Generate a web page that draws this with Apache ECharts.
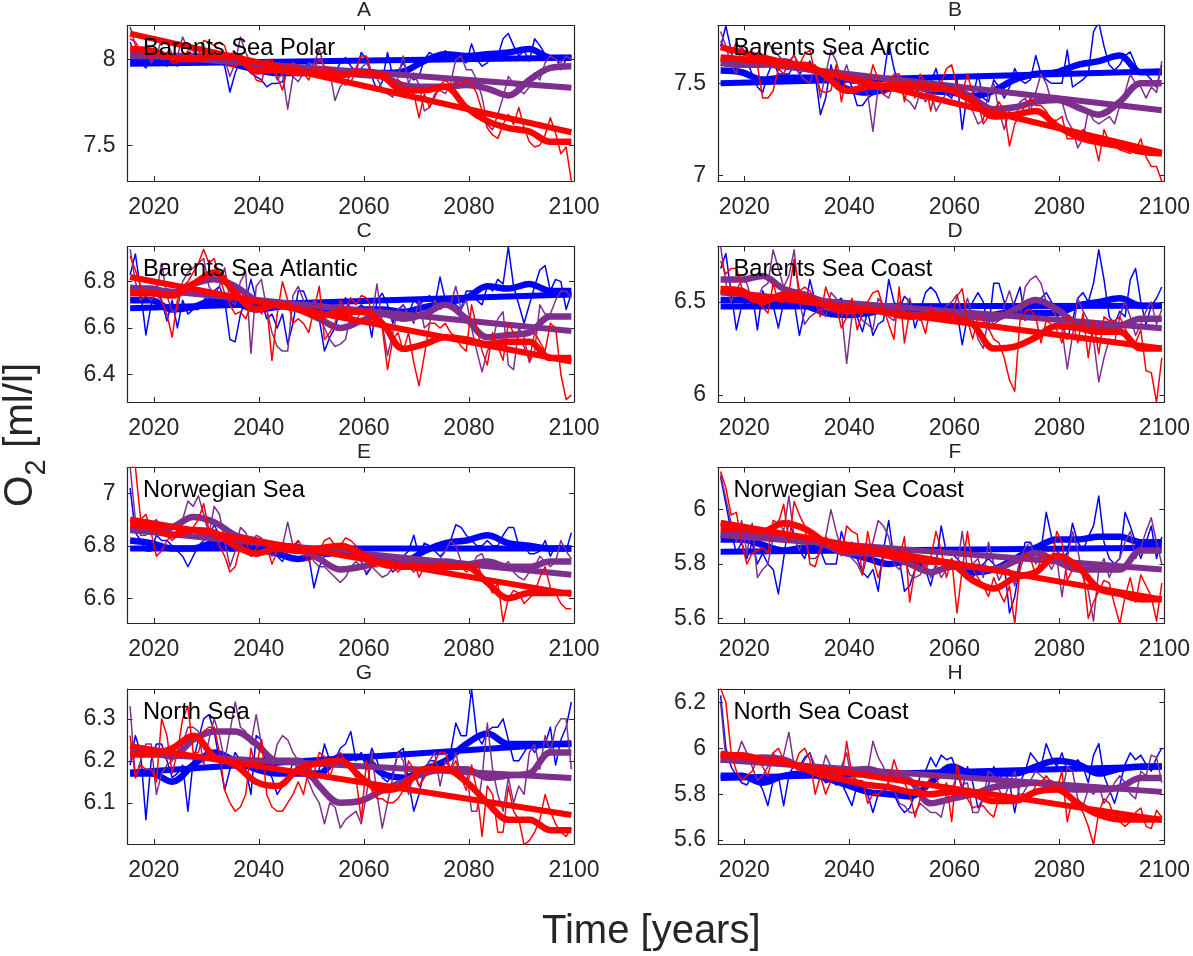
<!DOCTYPE html>
<html>
<head>
<meta charset="utf-8">
<title>O2 projections</title>
<script src="https://cdn.jsdelivr.net/npm/echarts@6/dist/echarts.min.js"></script>
<style>
    html, body { margin: 0; padding: 0; background: #fff; }
    #chart { width: 1193px; height: 956px; }
</style>
</head>
<body>
<div id="chart"></div>
<script>
// annual thin lines run 2015.5 .. 2099.5, smoothed lines are read every 4 years
var thin_start = 2015.5;
var smooth_step = 4;
var trend_years = [2015.5, 2099.5];
var x_ticks = [2020, 2040, 2060, 2080, 2100];

var panel_titles = ["A", "B", "C", "D", "E", "F", "G", "H"];
var panel_names = ["Barents Sea Polar", "Barents Sea Arctic", "Barents Sea Atlantic", "Barents Sea Coast", "Norwegian Sea", "Norwegian Sea Coast", "North Sea", "North Sea Coast"];
var y_mins = [7.292, 6.971, 6.28, 5.962, 6.506, 5.583, 6.002, 5.583];
var y_maxs = [8.197, 7.813, 6.952, 6.798, 7.098, 6.155, 6.371, 6.258];
var y_ticks = [[7.5, 8], [7, 7.5], [6.4, 6.6, 6.8], [6, 6.5], [6.6, 6.8, 7], [5.6, 5.8, 6], [6.1, 6.2, 6.3], [5.6, 5.8, 6, 6.2]];

// panel A
var a_blue = [8.10,8.02,7.98,7.95,8.0,8.0,8.02,7.96,8.0,7.96, 8.02,7.97,8.02,8.0,8.02,8.0,8.03,8.0,7.96,7.81, 7.92,8.0,7.95,7.92,7.9,7.88,7.84,7.86,7.86,7.87, 7.93,7.9,7.96,7.95,7.98,7.93,7.92,7.95,7.90,7.92, 7.98,8.01,7.96,7.93,8.04,8.0,7.9,7.82,7.87,8.04, 7.90,7.93,7.98,7.92,7.88,7.9,8.0,8.04,8.02,8.0, 8.05,8.02,8.0,8.0,7.98,8.09,8.0,7.96,7.98,8.03, 8.02,8.12,8.15,8.08,8.02,8.05,7.99,8.12,8.08,8.03, 8.02,8.02,7.94,8.0,8.02];
var a_purple = [8.19,8.08,8.0,8.07,7.98,8.02,8.12,8.1,8.03,8.02, 8.13,8.06,8.05,8.0,8.02,8.02,8.05,8.02,8.0,7.9, 7.98,8.13,8.04,7.98,7.98,7.98,8.0,7.97,7.88,7.92, 7.71,7.9,7.87,7.92,7.98,7.97,8.06,7.94,7.93,7.76, 7.84,7.88,7.87,7.92,7.95,7.98,7.92,7.89,7.83,7.80, 7.78,7.9,8.02,7.86,7.92,7.85,7.70,7.72,7.80,7.82, 7.80,7.86,8.0,8.02,7.94,7.94,7.88,7.78,7.62,7.59, 7.68,7.78,7.90,7.86,7.82,7.80,7.84,7.92,7.88,7.98, 8.02,8.0,7.98,8.02,8.0];
var a_red = [8.12,8.1,8.05,8.02,8.0,8.03,8.05,8.02,7.98,7.98, 8.0,8.05,8.0,8.02,8.11,8.1,8.08,8.1,8.08,7.96, 7.96,7.98,7.98,7.95,7.88,7.87,7.98,8.0,7.9,7.82, 7.96,7.98,7.96,7.92,7.88,7.95,8.0,7.96,7.95,7.94, 7.88,7.85,7.92,7.95,8.02,8.02,7.92,7.93,7.92,7.92, 7.86,7.88,7.85,7.82,7.8,7.66,7.8,7.72,7.78,7.85, 7.88,7.85,7.87,7.85,7.88,7.86,7.80,7.7,7.6,7.56, 7.54,7.62,7.68,7.62,7.72,7.6,7.52,7.49,7.5,7.56, 7.66,7.57,7.45,7.49,7.29];
var a_blue_smooth = [8.01,8.01,8.01,8.01,8.0,7.97,7.94,7.92,7.92,7.92,7.92,7.93,7.92,7.93,7.99,8.03,8.02,8.03,8.04,8.06,8.01,8.01];
var a_purple_smooth = [8.02,8.02,8.02,8.02,8.02,8.0,7.96,7.94,7.93,7.92,7.92,7.91,7.90,7.85,7.84,7.84,7.85,7.83,7.79,7.88,7.95,7.96];
var a_red_smooth = [8.06,8.05,8.01,8.0,8.02,8.02,7.93,7.94,7.92,7.93,7.91,7.92,7.90,7.82,7.82,7.84,7.72,7.64,7.60,7.58,7.52,7.52];
var a_blue_trend = [7.975, 8.01];
var a_purple_trend = [8.03, 7.835];
var a_red_trend = [8.15, 7.576];

// panel B
var b_blue = [7.7,7.81,7.68,7.55,7.62,7.62,7.55,7.48,7.45,7.55, 7.62,7.55,7.55,7.55,7.6,7.55,7.58,7.62,7.55,7.33, 7.42,7.6,7.5,7.48,7.55,7.48,7.38,7.38,7.42,7.44, 7.5,7.52,7.72,7.58,7.48,7.5,7.53,7.5,7.42,7.42, 7.5,7.58,7.48,7.44,7.42,7.52,7.25,7.45,7.42,7.55, 7.42,7.4,7.52,7.48,7.42,7.48,7.58,7.52,7.5,7.52, 7.65,7.55,7.52,7.5,7.5,7.5,7.68,7.48,7.5,7.52, 7.55,7.78,7.83,7.7,7.6,7.57,7.6,7.65,7.67,7.6, 7.55,7.55,7.52,7.48,7.6];
var b_purple = [7.78,7.7,7.6,7.55,7.7,7.65,7.6,7.65,7.62,7.72, 7.68,7.65,7.62,7.6,7.66,7.55,7.52,7.5,7.6,7.42, 7.55,7.68,7.62,7.52,7.6,7.5,7.5,7.48,7.44,7.24, 7.48,7.44,7.42,7.5,7.55,7.42,7.4,7.36,7.45,7.4, 7.45,7.35,7.4,7.45,7.48,7.44,7.46,7.38,7.35,7.28, 7.3,7.45,7.5,7.35,7.25,7.35,7.3,7.4,7.42,7.35, 7.45,7.55,7.5,7.4,7.42,7.4,7.3,7.25,7.15,7.2, 7.35,7.3,7.28,7.3,7.32,7.28,7.38,7.45,7.55,7.5, 7.48,7.42,7.48,7.45,7.62];
var b_red = [7.73,7.68,7.66,7.72,7.68,7.65,7.62,7.6,7.42,7.42, 7.46,7.58,7.55,7.62,7.65,7.6,7.66,7.68,7.55,7.46, 7.45,7.46,7.6,7.4,7.55,7.5,7.5,7.48,7.48,7.6, 7.52,7.44,7.46,7.55,7.55,7.4,7.52,7.42,7.55,7.5, 7.35,7.48,7.5,7.58,7.6,7.48,7.45,7.55,7.44,7.4, 7.28,7.32,7.35,7.4,7.35,7.16,7.28,7.33,7.38,7.42, 7.38,7.38,7.35,7.3,7.3,7.32,7.2,7.2,7.2,7.25, 7.22,7.2,7.08,7.25,7.18,7.16,7.14,7.13,7.12,7.14, 7.2,7.1,7.05,7.05,6.97];
var b_blue_smooth = [7.57,7.56,7.52,7.53,7.53,7.53,7.47,7.45,7.47,7.49,7.46,7.45,7.43,7.46,7.52,7.55,7.56,7.60,7.62,7.65,7.56,7.56];
var b_purple_smooth = [7.61,7.6,7.6,7.62,7.58,7.56,7.53,7.5,7.48,7.48,7.47,7.47,7.42,7.36,7.37,7.40,7.41,7.37,7.33,7.40,7.5,7.5];
var b_red_smooth = [7.64,7.63,7.62,7.6,7.6,7.54,7.46,7.48,7.49,7.49,7.48,7.46,7.4,7.32,7.33,7.35,7.27,7.21,7.18,7.16,7.13,7.12];
var b_blue_trend = [7.50, 7.565];
var b_purple_trend = [7.63, 7.354];
var b_red_trend = [7.695, 7.124];

// panel C
var c_blue = [6.83,6.92,6.76,6.57,6.7,6.78,6.72,6.63,6.72,6.6, 6.72,6.66,6.68,6.68,6.72,6.74,6.76,6.78,6.72,6.55, 6.54,6.66,6.72,6.81,6.72,6.72,6.64,6.66,6.6,6.66, 6.53,6.62,6.76,6.76,6.7,6.72,6.64,6.5,6.56,6.6, 6.68,6.73,6.68,6.68,6.7,6.68,6.56,6.72,6.75,6.7, 6.62,6.68,6.7,6.66,6.72,6.7,6.72,6.74,6.7,6.82, 6.72,6.72,6.7,6.68,6.76,6.76,6.72,6.7,6.78,6.76, 6.81,6.79,6.95,6.78,6.7,6.62,6.7,6.78,6.85,6.87, 6.76,6.81,6.8,6.68,6.75];
var c_purple = [6.94,6.8,6.72,6.74,6.72,6.75,6.88,6.74,6.67,6.68, 6.8,6.84,6.86,6.88,6.9,6.78,6.74,6.78,6.86,6.72, 6.7,6.8,6.84,6.49,6.78,6.81,6.68,6.58,6.52,6.5, 6.5,6.74,6.78,6.72,6.66,6.72,6.66,6.6,6.55,6.52, 6.53,6.55,6.66,6.62,6.68,6.66,6.65,6.79,6.62,6.48, 6.58,6.68,6.7,6.66,6.62,6.72,6.6,6.62,6.72,6.68, 6.7,6.7,6.78,6.68,6.72,6.6,6.5,6.41,6.5,6.54, 6.64,6.67,6.44,6.42,6.6,6.56,6.45,6.5,6.7,6.66, 6.66,6.72,6.76,6.76,6.73];
var c_red = [6.91,6.85,6.78,6.74,6.76,6.74,6.72,6.66,6.56,6.72, 6.78,6.8,6.84,6.88,6.94,6.88,6.9,6.82,6.75,6.7, 6.66,6.67,6.64,6.7,6.72,6.66,6.7,6.46,6.66,6.8, 6.72,6.62,6.64,6.62,6.58,6.68,6.78,6.55,6.58,6.62, 6.72,6.68,6.73,6.7,6.74,6.73,6.68,6.62,6.6,6.42, 6.55,6.58,6.5,6.58,6.45,6.35,6.48,6.62,6.62,6.6, 6.62,6.58,6.56,6.52,6.5,6.7,6.6,6.5,6.44,6.58, 6.52,6.46,6.62,6.58,6.55,6.52,6.46,6.58,6.54,6.5, 6.62,6.6,6.4,6.29,6.31];
var c_blue_smooth = [6.72,6.72,6.68,6.69,6.72,6.71,6.68,6.69,6.7,6.67,6.66,6.68,6.68,6.67,6.69,6.71,6.73,6.78,6.77,6.79,6.76,6.76];
var c_purple_smooth = [6.77,6.77,6.75,6.79,6.81,6.78,6.72,6.70,6.68,6.64,6.6,6.63,6.66,6.64,6.66,6.7,6.64,6.56,6.57,6.58,6.65,6.65];
var c_red_smooth = [6.75,6.75,6.74,6.79,6.84,6.75,6.68,6.7,6.68,6.65,6.67,6.67,6.62,6.51,6.53,6.56,6.55,6.53,6.54,6.54,6.47,6.47];
var c_blue_trend = [6.685, 6.745];
var c_purple_trend = [6.775, 6.587];
var c_red_trend = [6.82, 6.455];

// panel D
var d_blue = [6.68,6.76,6.55,6.35,6.48,6.5,6.55,6.35,6.56,6.5, 6.48,6.36,6.5,6.55,6.5,6.32,6.45,6.62,6.5,6.45, 6.47,6.42,6.5,6.52,6.42,6.45,6.42,6.34,6.45,6.32, 6.38,6.4,6.62,6.5,6.46,6.53,6.5,6.36,6.45,6.55, 6.58,6.55,6.48,6.42,6.44,6.45,6.27,6.42,6.5,6.55, 6.5,6.35,6.6,6.6,6.5,6.45,6.5,6.58,6.4,6.46, 6.48,6.52,6.55,6.5,6.44,6.38,6.3,6.4,6.52,6.55, 6.5,6.6,6.78,6.62,6.42,6.38,6.45,6.42,6.62,6.68, 6.5,6.38,6.48,6.52,6.58];
var d_purple = [6.8,6.6,6.5,6.56,6.62,6.6,6.5,6.52,6.58,6.6, 6.78,6.68,6.58,6.64,6.78,6.5,6.38,6.42,6.44,6.46, 6.42,6.55,6.52,6.45,6.17,6.42,6.48,6.4,6.38,6.35, 6.52,6.48,6.42,6.4,6.5,6.46,6.52,6.42,6.4,6.45, 6.44,6.46,6.42,6.48,6.5,6.54,6.42,6.52,6.42,6.3, 6.25,6.42,6.38,6.4,6.48,6.56,6.46,6.42,6.58,6.62, 6.64,6.6,6.5,6.46,6.42,6.35,6.14,6.32,6.52,6.45, 6.4,6.3,6.07,6.2,6.3,6.28,6.42,6.5,6.42,6.32, 6.38,6.45,6.5,6.38,6.46];
var d_red = [6.72,6.65,6.68,6.68,6.58,6.52,6.5,6.5,6.47,6.44, 6.6,6.5,6.5,6.55,6.73,6.56,6.58,6.56,6.5,6.42, 6.58,6.5,6.48,6.36,6.42,6.52,6.35,6.44,6.5,6.55, 6.56,6.47,6.38,6.3,6.58,6.28,6.45,6.42,6.42,6.33, 6.48,6.4,6.42,6.45,6.42,6.53,6.57,6.4,6.3,6.42, 6.4,6.36,6.3,6.28,6.2,6.08,6.02,6.4,6.45,6.46, 6.42,6.28,6.4,6.38,6.35,6.28,6.42,6.4,6.28,6.44, 6.2,6.4,6.22,6.42,6.4,6.4,6.42,6.36,6.3,6.28, 6.35,6.13,6.12,5.96,6.2];
var d_blue_smooth = [6.51,6.51,6.5,6.49,6.48,6.44,6.43,6.44,6.46,6.45,6.43,6.44,6.42,6.43,6.45,6.44,6.44,6.48,6.5,6.52,6.48,6.48];
var d_purple_smooth = [6.62,6.62,6.64,6.57,6.54,6.5,6.49,6.47,6.47,6.43,6.43,6.44,6.42,6.41,6.46,6.51,6.46,6.38,6.36,6.37,6.41,6.41];
var d_red_smooth = [6.57,6.56,6.5,6.54,6.53,6.48,6.45,6.46,6.44,6.42,6.43,6.42,6.38,6.25,6.26,6.31,6.37,6.36,6.34,6.34,6.25,6.25];
var d_blue_trend = [6.475, 6.48];
var d_purple_trend = [6.55, 6.358];
var d_red_trend = [6.56, 6.25];

// panel E
var e_blue = [7.02,6.85,6.82,6.78,6.78,6.84,6.82,6.82,6.8,6.78, 6.76,6.72,6.76,6.8,6.82,6.84,6.88,6.84,6.82,6.78, 6.78,6.8,6.8,6.76,6.78,6.82,6.78,6.8,6.76,6.74, 6.78,6.78,6.82,6.78,6.76,6.64,6.72,6.76,6.76,6.78, 6.77,6.76,6.78,6.76,6.74,6.69,6.72,6.74,6.72,6.73, 6.7,6.72,6.76,6.78,6.84,6.76,6.81,6.8,6.78,6.76, 6.78,6.82,6.88,6.87,6.84,6.82,6.8,6.8,6.82,6.8, 6.8,6.84,6.87,6.87,6.8,6.8,6.77,6.77,6.78,6.82, 6.76,6.8,6.8,6.78,6.85];
var e_purple = [7.1,6.9,6.84,6.84,6.88,6.9,6.86,6.84,6.82,6.84, 6.9,6.97,6.95,6.99,6.92,6.84,6.95,6.92,6.82,6.72, 6.78,6.87,6.85,6.8,6.84,6.83,6.8,6.76,6.78,6.8, 6.89,6.8,6.8,6.76,6.78,6.74,6.72,6.72,6.7,6.68, 6.66,6.68,6.72,6.74,6.72,6.7,6.72,6.7,6.68,6.69, 6.72,6.74,6.75,6.72,6.7,6.72,6.74,6.72,6.72,6.75, 6.78,6.82,6.8,6.74,6.74,6.72,6.76,6.77,6.72,6.72, 6.71,6.72,6.74,6.7,6.68,6.67,6.7,6.72,6.76,6.74, 6.72,6.74,6.82,6.78,6.75];
var e_red = [7.1,7.1,6.9,6.92,6.85,6.76,6.78,6.82,6.84,6.86, 6.84,6.86,6.87,6.9,6.96,6.86,6.86,6.8,6.76,6.7, 6.72,6.8,6.82,6.76,6.79,6.82,6.8,6.73,6.78,6.8, 6.79,6.8,6.82,6.78,6.74,6.76,6.78,6.82,6.83,6.8, 6.8,6.83,6.82,6.8,6.76,6.74,6.72,6.72,6.74,6.72, 6.72,6.7,6.72,6.72,6.74,6.68,6.72,6.72,6.72,6.74, 6.72,6.72,6.72,6.72,6.7,6.72,6.74,6.68,6.66,6.62, 6.66,6.51,6.6,6.63,6.62,6.58,6.6,6.62,6.68,6.72, 6.64,6.62,6.58,6.56,6.56];
var e_blue_smooth = [6.82,6.81,6.79,6.79,6.81,6.81,6.79,6.77,6.75,6.77,6.78,6.77,6.74,6.74,6.78,6.81,6.82,6.84,6.81,6.8,6.79,6.79];
var e_purple_smooth = [6.86,6.86,6.87,6.91,6.89,6.84,6.82,6.8,6.79,6.75,6.71,6.72,6.74,6.73,6.73,6.74,6.73,6.74,6.72,6.72,6.74,6.74];
var e_red_smooth = [6.88,6.87,6.84,6.86,6.85,6.8,6.77,6.79,6.78,6.79,6.8,6.77,6.73,6.72,6.72,6.72,6.72,6.66,6.6,6.62,6.62,6.62];
var e_blue_trend = [6.79, 6.79];
var e_purple_trend = [6.86, 6.69];
var e_red_trend = [6.9, 6.616];

// panel F
var f_blue = [6.12,6.02,5.92,5.84,5.88,5.82,5.88,5.8,5.84,5.8, 5.78,5.69,5.82,5.96,5.9,5.85,5.82,5.88,5.9,5.85, 5.8,5.8,5.8,5.92,5.85,5.88,5.82,5.77,5.75,5.78, 5.7,5.85,5.96,5.82,5.82,5.7,5.72,5.78,5.8,5.78, 5.72,5.8,5.94,5.84,5.84,5.82,5.8,5.78,5.75,5.78, 5.8,5.82,5.8,5.78,5.8,5.62,5.68,5.8,5.88,5.88, 5.84,5.85,5.99,5.9,5.85,5.82,5.84,5.95,5.88,5.85, 5.9,5.94,6.05,5.88,5.82,5.8,5.82,5.99,5.94,5.88, 5.82,5.88,5.94,5.82,5.9];
var f_purple = [6.13,6.04,5.95,5.88,5.96,5.84,5.95,5.75,5.78,5.8, 5.9,5.96,5.92,6.05,5.9,5.85,5.9,5.82,5.82,5.84, 5.9,6.0,5.92,5.85,5.85,5.82,5.8,5.76,5.84,5.88, 5.96,5.94,5.9,5.8,5.78,5.82,5.76,5.75,5.76,5.8, 5.75,5.8,5.75,5.78,5.82,5.78,5.92,5.78,5.8,5.82, 5.75,5.88,5.8,5.74,5.78,5.78,5.72,5.82,5.86,5.88, 5.8,5.85,5.82,5.78,5.82,5.68,5.82,5.92,5.85,5.75, 5.7,5.59,5.78,5.82,5.75,5.8,5.82,5.88,5.92,5.82, 5.86,5.92,5.97,5.88,5.8];
var f_red = [6.14,6.08,5.98,5.99,5.88,5.8,5.84,5.85,5.86,5.84, 5.96,5.95,6.02,5.88,6.03,5.98,5.94,5.8,5.79,5.86, 5.9,5.88,5.86,5.83,5.94,5.92,5.91,5.76,5.92,5.82, 5.75,5.82,5.86,5.84,5.82,5.9,5.66,5.78,5.82,5.78, 5.82,5.92,5.85,5.75,5.82,5.62,5.78,5.92,5.78,5.75, 5.72,5.68,5.75,5.7,5.66,5.72,5.58,5.78,5.84,5.82, 5.76,5.82,5.84,5.8,5.92,5.88,5.74,5.78,5.8,5.78, 5.6,5.66,5.7,5.74,5.73,5.65,5.58,5.68,5.75,5.66, 5.76,5.72,5.68,5.59,5.73];
var f_blue_smooth = [5.89,5.89,5.87,5.85,5.86,5.86,5.84,5.82,5.8,5.81,5.81,5.8,5.77,5.78,5.82,5.86,5.89,5.89,5.9,5.9,5.88,5.88];
var f_purple_smooth = [5.91,5.91,5.91,5.9,5.89,5.87,5.84,5.84,5.83,5.8,5.77,5.79,5.79,5.78,5.81,5.84,5.81,5.78,5.78,5.78,5.85,5.85];
var f_red_smooth = [5.93,5.93,5.92,5.95,5.93,5.88,5.85,5.85,5.83,5.82,5.81,5.8,5.74,5.71,5.75,5.77,5.83,5.79,5.71,5.69,5.67,5.67];
var f_blue_trend = [5.845, 5.86];
var f_purple_trend = [5.907, 5.78];
var f_red_trend = [5.952, 5.67];

// panel G
var g_blue = [6.19,6.26,6.22,6.06,6.2,6.24,6.24,6.2,6.16,6.17, 6.19,6.08,6.2,6.25,6.3,6.31,6.27,6.2,6.13,6.18, 6.22,6.2,6.18,6.12,6.26,6.25,6.18,6.16,6.12,6.14, 6.15,6.2,6.18,6.18,6.16,6.15,6.18,6.24,6.2,6.2, 6.23,6.24,6.27,6.2,6.22,6.18,6.23,6.2,6.16,6.15, 6.17,6.22,6.23,6.15,6.08,6.12,6.18,6.2,6.2,6.18, 6.2,6.22,6.29,6.26,6.26,6.37,6.26,6.24,6.27,6.28, 6.28,6.3,6.25,6.2,6.2,6.22,6.24,6.22,6.24,6.24, 6.28,6.19,6.25,6.28,6.34];
var g_purple = [6.33,6.16,6.2,6.24,6.24,6.12,6.17,6.19,6.2,6.22, 6.24,6.28,6.28,6.27,6.19,6.25,6.3,6.26,6.2,6.27, 6.34,6.28,6.27,6.24,6.31,6.24,6.2,6.18,6.24,6.26, 6.25,6.22,6.2,6.18,6.15,6.12,6.1,6.05,6.1,6.09, 6.04,6.06,6.07,6.08,6.05,6.12,6.22,6.12,6.04,6.1, 6.16,6.22,6.2,6.12,6.17,6.14,6.16,6.2,6.22,6.14, 6.2,6.18,6.22,6.16,6.18,6.08,6.08,6.16,6.29,6.18, 6.12,6.08,6.16,6.1,6.14,6.12,6.22,6.24,6.18,6.26, 6.22,6.28,6.3,6.3,6.18];
var g_red = [6.26,6.16,6.19,6.18,6.18,6.15,6.3,6.26,6.17,6.22, 6.3,6.33,6.22,6.22,6.27,6.28,6.28,6.22,6.13,6.1, 6.08,6.09,6.12,6.23,6.18,6.25,6.12,6.09,6.08,6.08, 6.1,6.12,6.15,6.12,6.18,6.17,6.22,6.21,6.16,6.2, 6.22,6.2,6.18,6.16,6.06,6.2,6.13,6.11,6.11,6.1, 6.1,6.11,6.13,6.2,6.18,6.14,6.16,6.18,6.2,6.22, 6.22,6.18,6.2,6.16,6.13,6.19,6.13,6.02,6.14,6.12, 6.03,6.03,6.14,6.08,6.06,6.0,6.01,6.03,6.06,6.12, 6.08,6.05,6.03,6.02,6.04];
var g_blue_smooth = [6.17,6.17,6.15,6.19,6.22,6.2,6.18,6.17,6.17,6.17,6.21,6.21,6.17,6.16,6.18,6.2,6.24,6.265,6.24,6.24,6.24,6.24];
var g_purple_smooth = [6.22,6.22,6.21,6.25,6.27,6.27,6.24,6.2,6.2,6.14,6.1,6.105,6.13,6.15,6.17,6.18,6.18,6.16,6.165,6.17,6.22,6.22];
var g_red_smooth = [6.215,6.215,6.23,6.26,6.21,6.19,6.15,6.14,6.18,6.195,6.2,6.16,6.13,6.14,6.18,6.18,6.15,6.1,6.06,6.06,6.035,6.035];
var g_blue_trend = [6.172, 6.242];
var g_purple_trend = [6.218, 6.159];
var g_red_trend = [6.235, 6.071];

// panel H
var h_blue = [6.23,6.0,5.92,5.88,5.85,5.84,5.88,5.86,5.82,5.75, 5.86,5.88,5.75,5.88,5.93,5.92,5.96,5.98,5.9,5.88, 5.85,5.86,5.84,5.85,5.8,5.75,5.84,5.82,5.8,5.72, 5.8,5.8,5.84,5.8,5.75,5.72,5.74,5.8,5.88,5.9, 5.96,5.92,5.97,5.95,5.96,5.9,5.82,5.92,5.85,5.74, 5.78,5.84,5.92,5.86,5.9,5.85,5.72,5.85,5.9,5.98, 5.95,5.92,6.02,5.96,5.92,5.98,5.9,5.92,5.95,5.92, 5.85,5.97,6.02,5.88,5.82,5.76,5.84,5.93,5.98,5.95, 5.97,5.93,5.9,5.96,6.0];
var h_purple = [6.2,5.95,5.94,5.96,6.03,5.98,5.92,5.86,5.88,5.92, 5.98,5.94,5.97,6.07,5.92,5.9,5.95,5.98,5.92,5.88, 5.97,5.92,5.88,5.92,5.98,5.85,5.9,5.88,5.9,6.03, 5.96,5.92,5.84,5.82,5.76,5.75,5.72,5.72,5.76,5.74, 5.72,5.72,5.7,5.8,5.82,5.88,5.84,5.85,5.72,5.72, 5.78,5.9,5.88,5.82,5.78,5.85,5.9,5.78,5.82,5.86, 5.9,5.88,5.86,5.86,5.84,5.8,5.92,5.9,5.78,5.75, 5.82,5.8,5.84,5.76,5.8,5.85,5.88,5.85,5.8,5.78, 5.9,5.88,5.97,5.96,5.85];
var h_red = [6.26,6.2,5.98,5.9,5.86,5.88,5.9,5.95,5.92,5.88, 5.98,6.0,5.95,5.94,5.92,5.98,6.0,5.95,5.8,5.88, 5.8,5.86,5.9,5.86,6.03,5.88,5.86,5.86,5.76,5.8, 5.8,5.82,5.85,5.95,5.88,5.85,5.8,5.7,5.78,5.82, 5.88,5.88,5.8,5.85,5.68,5.93,5.82,5.78,5.74,5.75, 5.75,5.72,5.7,5.79,5.8,5.78,5.76,5.8,5.8,5.78, 5.84,5.85,5.88,5.85,5.82,5.9,5.68,5.78,5.76,5.72, 5.66,5.58,5.72,5.78,5.76,5.7,5.68,5.66,5.68,5.72, 5.74,5.66,5.65,5.73,5.7];
var h_blue_smooth = [5.88,5.88,5.85,5.88,5.89,5.87,5.84,5.81,5.8,5.79,5.85,5.92,5.89,5.89,5.89,5.92,5.945,5.93,5.89,5.91,5.92,5.92];
var h_purple_smooth = [5.95,5.95,5.96,5.95,5.91,5.89,5.9,5.91,5.88,5.86,5.76,5.78,5.8,5.83,5.84,5.85,5.83,5.82,5.82,5.83,5.87,5.87];
var h_red_smooth = [5.97,5.97,5.95,5.94,5.91,5.88,5.86,5.84,5.83,5.81,5.8,5.81,5.8,5.77,5.77,5.81,5.82,5.76,5.71,5.69,5.69,5.69];
var h_blue_trend = [5.87, 5.92];
var h_purple_trend = [5.95, 5.81];
var h_red_trend = [5.977, 5.688];

var thin_lines = [[a_blue, a_purple, a_red], [b_blue, b_purple, b_red], [c_blue, c_purple, c_red], [d_blue, d_purple, d_red], [e_blue, e_purple, e_red], [f_blue, f_purple, f_red], [g_blue, g_purple, g_red], [h_blue, h_purple, h_red]];
var smooth_lines = [[a_blue_smooth, a_purple_smooth, a_red_smooth], [b_blue_smooth, b_purple_smooth, b_red_smooth], [c_blue_smooth, c_purple_smooth, c_red_smooth], [d_blue_smooth, d_purple_smooth, d_red_smooth], [e_blue_smooth, e_purple_smooth, e_red_smooth], [f_blue_smooth, f_purple_smooth, f_red_smooth], [g_blue_smooth, g_purple_smooth, g_red_smooth], [h_blue_smooth, h_purple_smooth, h_red_smooth]];
var trend_lines = [[a_blue_trend, a_purple_trend, a_red_trend], [b_blue_trend, b_purple_trend, b_red_trend], [c_blue_trend, c_purple_trend, c_red_trend], [d_blue_trend, d_purple_trend, d_red_trend], [e_blue_trend, e_purple_trend, e_red_trend], [f_blue_trend, f_purple_trend, f_red_trend], [g_blue_trend, g_purple_trend, g_red_trend], [h_blue_trend, h_purple_trend, h_red_trend]];

var colors = ["#0000ff", "#7e2f8e", "#ff0000"];
var dark = "#262626";
var font = "Liberation Sans";

// layout of the 2 x 4 panels in pixels
var col_left = [127.5, 718];
var col_width = [446.5, 447];
var col_title = [364, 955];
var row_top = [25.5, 246.5, 467.5, 689];
var row_height = [155.5, 155.5, 155.5, 155];

// join values to their years so the value axis can place them
function with_years(values, start, step) {
    var out = [];
    for (let i = 0; i < values.length; i++) {
        out.push([start + i * step, values[i]]);
    }
    return out;
}

function line_series(data, color, width, axis_index, smooth) {
    return {
        type: "line",
        data: data,
        xAxisIndex: axis_index,
        yAxisIndex: axis_index,
        showSymbol: false,
        symbol: "none",
        smooth: smooth,
        lineStyle: { color: color, width: width, cap: "butt", join: "round" },
        silent: true
    };
}

function make_axis(type_pos, ticks, min, max, grid_index, labels, margin) {
    return {
        type: "value",
        gridIndex: grid_index,
        position: type_pos,
        min: min,
        max: max,
        scale: true,
        splitLine: { show: false },
        axisLine: { show: true, onZero: false, lineStyle: { color: dark, width: 1.2 } },
        axisTick: { show: true, inside: true, length: 5, customValues: ticks, lineStyle: { color: dark, width: 1 } },
        axisLabel: {
            show: labels,
            customValues: ticks,
            color: dark,
            fontFamily: font,
            fontSize: 23,
            margin: margin,
            hideOverlap: false,
            formatter: function (v) { return String(v); }
        }
    };
}

var grids = [], xAxes = [], yAxes = [], series = [], titles = [];

for (let p = 0; p < 8; p++) {
    let col = p % 2, row = Math.floor(p / 2);
    grids.push({ left: col_left[col], top: row_top[row], width: col_width[col], height: row_height[row], containLabel: false });
}
// bottom/left axes carry the series, the top/right copies only mirror the ticks
for (let p = 0; p < 8; p++) {
    xAxes.push(make_axis("bottom", x_ticks, 2015, 2100, p, true, 15));
    yAxes.push(make_axis("left", y_ticks[p], y_mins[p], y_maxs[p], p, true, 12));
}
for (let p = 0; p < 8; p++) {
    xAxes.push(make_axis("top", x_ticks, 2015, 2100, p, false, 15));
    yAxes.push(make_axis("right", y_ticks[p], y_mins[p], y_maxs[p], p, false, 12));
}

for (let p = 0; p < 8; p++) {
    for (let c = 0; c < 3; c++) {
        series.push(line_series(with_years(thin_lines[p][c], thin_start, 1), colors[c], 1.5, p, false));
        series.push(line_series(with_years(smooth_lines[p][c], thin_start, smooth_step), colors[c], 6.5, p, 0.35));
        series.push(line_series([[trend_years[0], trend_lines[p][c][0]], [trend_years[1], trend_lines[p][c][1]]], colors[c], 6, p, false));
    }
    let col = p % 2, row = Math.floor(p / 2);
    titles.push({
        text: panel_titles[p],
        left: col_title[col],
        top: row_top[row] - 26,
        textAlign: "center",
        padding: 0,
        textStyle: { color: dark, fontFamily: font, fontSize: 21, fontWeight: "normal" }
    });
    titles.push({
        text: panel_names[p],
        left: col_left[col] + 15.5,
        top: row_top[row] + 11,
        padding: 0,
        textStyle: { color: "#000", fontFamily: font, fontSize: 23.7, fontWeight: "normal" }
    });
}

var myChart = echarts.init(document.getElementById("chart"), null, { renderer: "canvas" });
myChart.setOption({
    animation: false,
    backgroundColor: "#fff",
    title: titles,
    grid: grids,
    xAxis: xAxes,
    yAxis: yAxes,
    series: series,
    graphic: [
        {
            type: "text",
            left: 542,
            top: 912,
            style: { text: "Time [years]", fill: dark, font: "40px Liberation Sans" }
        },
        {
            type: "text",
            x: 0,
            y: 507,
            rotation: Math.PI / 2,
            style: {
                text: "{main|O}{sub|2}{main| [ml/l]}",
                fill: dark,
                rich: {
                    main: { fontSize: 40.5, fontFamily: font, fill: dark, verticalAlign: "top" },
                    sub: { fontSize: 29, fontFamily: font, fill: dark, verticalAlign: "bottom", padding: [22, 0, 0, 0] }
                }
            }
        }
    ]
});
</script>
</body>
</html>
